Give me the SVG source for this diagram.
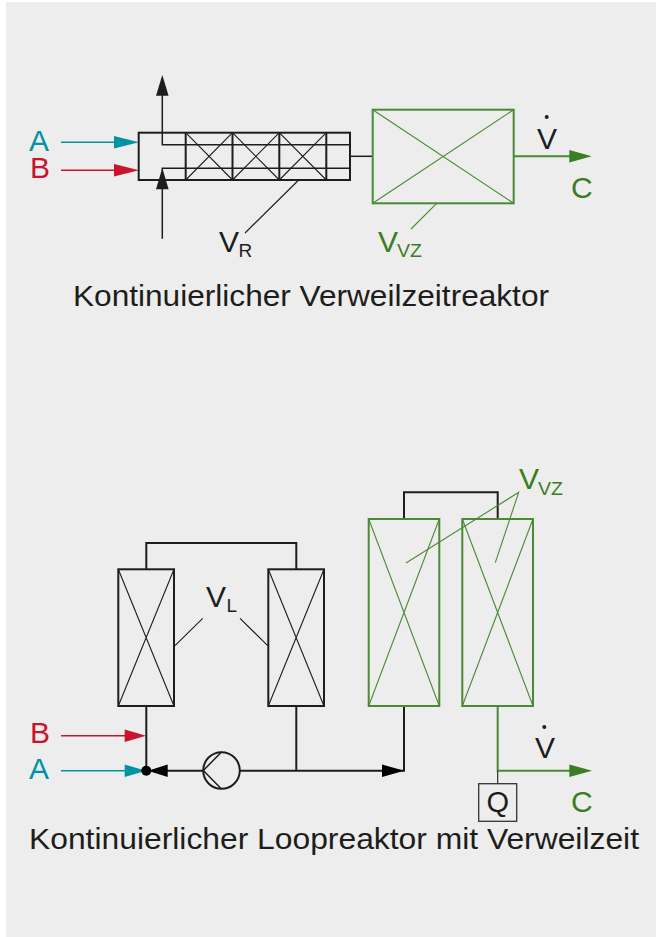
<svg xmlns="http://www.w3.org/2000/svg" width="656" height="937" viewBox="0 0 656 937">
<style>
.k{stroke:#1d1d1b;fill:none}
.g{stroke:#4a8a35;fill:none}
.t{stroke:#0093a5;fill:none}
.r{stroke:#c8142d;fill:none}
.w2{stroke-width:2}
.w15{stroke-width:1.5}
.w1{stroke-width:1.1}
text{font-family:"Liberation Sans",Arial,sans-serif}
.lab{font-size:30px}
.sub{font-size:19px}
.cap{font-size:30px;fill:#1d1d1b}
.fk{fill:#1d1d1b}.fg{fill:#3a7d22}.ft{fill:#0093a5}.fr{fill:#c8142d}
</style>
<rect width="656" height="937" fill="#fff"/>
<rect x="6" y="2" width="650" height="935" fill="#ededed"/>

<g id="connectors">
<path class="t w15" d="M61 142.3H120"/>
<path class="r w15" d="M61 170.3H120"/>
<path class="k w15" d="M162.3 90V144.7H350M162.3 238.7V168.3H350"/>
<path class="k w15" d="M350 156.3H372.7"/>
<path class="g w2" d="M513.7 156.3H575"/>
<path class="k w1" d="M298.7 180L245 233"/>
<path class="g w1" d="M436.7 203.3L411 229"/>
<polygon class="ft" points="139,142.3 114,136 114,148.6"/>
<polygon class="fr" points="139,170.3 114,164 114,176.6"/>
<polygon class="fk" points="162.3,75 156,95.7 168.6,95.7"/>
<polygon class="fk" points="162.3,168 156,189.3 168.6,189.3"/>
<polygon class="fg" points="591.7,156.3 569.3,150 569.3,162.6"/>

<path class="k w2" d="M146.3 569.3V543H296.3V569.3"/>
<path class="k w2" d="M146.3 706V770.7M296.3 706V770.7M167 770.7H203M240 770.7H390M404 706V770.7H390"/>
<path class="k w2" d="M404 519V492.3H497.7V519"/>
<path class="g w2" d="M497.7 706V770.7H575"/>
<path class="k w1" d="M497.7 770.7V783.7"/>
<path class="r w15" d="M61 735.7H130"/>
<path class="t w15" d="M61 770.7H130"/>
<path class="k w1" d="M175 645.7L202.7 618.3M240 618.3L267.7 645.7"/>
<path class="g w1" d="M406 563L518.7 492.3L495.3 562.7"/>
<polygon class="fr" points="146,735.7 124.7,729.4 124.7,742"/>
<polygon class="ft" points="146,770.7 124.7,764.4 124.7,777"/>
<circle cx="146.3" cy="770.7" r="5" fill="#000"/>
<polygon points="148,770.7 167.7,764.4 167.7,777" fill="#000"/>
<polygon points="404.3,770.7 382,764.4 382,777" fill="#000"/>
<polygon class="fg" points="592,770.7 569.3,764.4 569.3,777"/>
</g>

<g id="reactor-tube">
<rect class="k w2" x="138.7" y="132.7" width="211.3" height="47.3"/>
<path class="k w2" d="M185.7 132.7V180M232.5 132.7V180M279.3 132.7V180M326.3 132.7V180"/>
<path class="k w1" d="M185.7 132.7L232.5 180M232.5 132.7L185.7 180M232.5 132.7L279.3 180M279.3 132.7L232.5 180M279.3 132.7L326.3 180M326.3 132.7L279.3 180"/>
</g>
<g id="residence-vessel">
<rect class="g w2" x="372.7" y="109.7" width="141" height="93.6"/>
<path class="g w1" d="M372.7 109.7L513.7 203.3M513.7 109.7L372.7 203.3"/>
</g>
<g id="loop-left">
<rect class="k w2" x="118.3" y="569.3" width="55.7" height="136.7"/>
<path class="k w1" d="M118.3 569.3L174 706M174 569.3L118.3 706"/>
</g>
<g id="loop-right">
<rect class="k w2" x="268.3" y="569.3" width="55.7" height="136.7"/>
<path class="k w1" d="M268.3 569.3L324 706M324 569.3L268.3 706"/>
</g>
<g id="vz-1">
<rect class="g w2" x="368.7" y="519" width="70.6" height="187"/>
<path class="g w1" d="M368.7 519L439.3 706M439.3 519L368.7 706"/>
</g>
<g id="vz-2">
<rect class="g w2" x="462.3" y="519" width="70.7" height="187"/>
<path class="g w1" d="M462.3 519L533 706M533 519L462.3 706"/>
</g>
<g id="pump">
<circle class="k w2" cx="221.5" cy="770.5" r="18.3"/>
<path class="k w15" d="M221.5 752L203.3 770.5L221.5 789"/>
</g>
<g id="q-box">
<rect x="478.7" y="783.7" width="38" height="37.6" fill="none" stroke="#333" stroke-width="1.3"/>
<text x="497.7" y="811.5" text-anchor="middle" font-size="29" class="fk">Q</text>
</g>

<g id="labels">
<text x="29" y="150.7" class="lab ft">A</text>
<text x="30" y="178.3" class="lab fr">B</text>
<text x="219" y="251.7" class="lab fk">V</text><text x="238.5" y="256.7" class="sub fk">R</text>
<text x="378" y="251.7" class="lab fg">V</text><text x="397" y="256.7" class="sub fg" textLength="25" lengthAdjust="spacingAndGlyphs">VZ</text>
<text x="537" y="149" class="lab fk">V</text><circle cx="546.7" cy="117" r="2" class="fk"/>
<text x="571" y="198" class="lab fg">C</text>
<text x="73" y="305.7" class="cap" textLength="476" lengthAdjust="spacingAndGlyphs">Kontinuierlicher Verweilzeitreaktor</text>
<text x="206" y="606.7" class="lab fk">V</text><text x="226.5" y="612" class="sub fk">L</text>
<text x="519" y="489.3" class="lab fg">V</text><text x="538" y="495" class="sub fg" textLength="25" lengthAdjust="spacingAndGlyphs">VZ</text>
<text x="30" y="743.3" class="lab fr">B</text>
<text x="29" y="779" class="lab ft">A</text>
<text x="535" y="758.3" class="lab fk">V</text><circle cx="544.3" cy="727" r="2" class="fk"/>
<text x="571" y="811.7" class="lab fg">C</text>
<text x="29" y="849.3" class="cap" textLength="610" lengthAdjust="spacingAndGlyphs">Kontinuierlicher Loopreaktor mit Verweilzeit</text>
</g>
</svg>
